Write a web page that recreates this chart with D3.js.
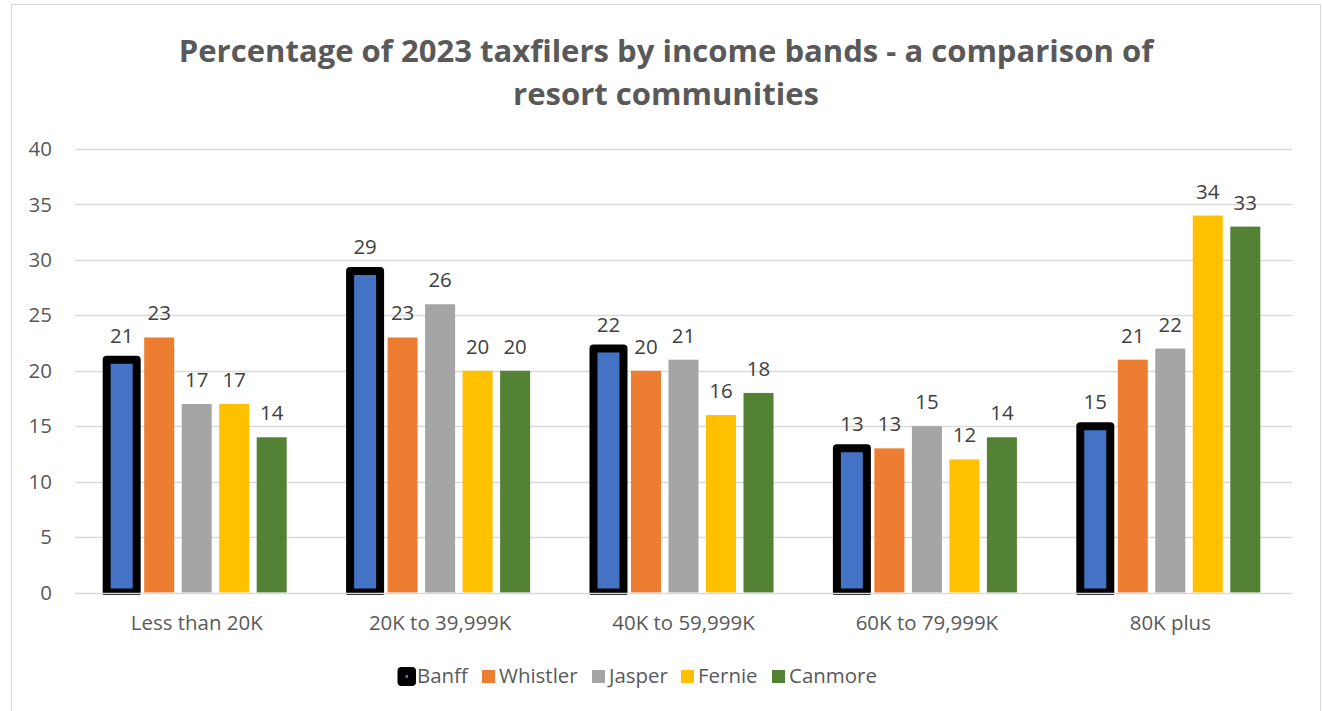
<!DOCTYPE html>
<html>
<head>
<meta charset="utf-8">
<script src="https://cdn.jsdelivr.net/npm/d3@7"></script>
<style>
  html, body { margin: 0; padding: 0; background: #fff; }
  svg { display: block; }
  text { font-family: "Open Sans", "Noto Sans", sans-serif; }
</style>
</head>
<body>
<svg id="chart" width="1322" height="711"></svg>
<script>
// Income bands on the x axis
const categories = ["Less than 20K", "20K to 39,999K", "40K to 59,999K", "60K to 79,999K", "80K plus"];
// Communities compared
const seriesNames = ["Banff", "Whistler", "Jasper", "Fernie", "Canmore"];
// Percentage of taxfilers per band, one array per community
const banff    = [21, 29, 22, 13, 15];
const whistler = [23, 23, 20, 13, 21];
const jasper   = [17, 26, 21, 15, 22];
const fernie   = [17, 20, 16, 12, 34];
const canmore  = [14, 20, 18, 14, 33];
const yTicks = [0, 5, 10, 15, 20, 25, 30, 35, 40];
const titleLines = ["Percentage of 2023 taxfilers by income bands - a comparison of", "resort communities"];

const seriesValues = [banff, whistler, jasper, fernie, canmore];
const colors = ["#4472C4", "#ED7D31", "#A5A5A5", "#FFC000", "#548235"];

const svg = d3.select("#chart");
const W = 1322, H = 711;
const plot = { left: 75, right: 1292, top: 149, bottom: 592.5 };

// size a font so that a sample string spans the wanted width
function fitSize(sample, width, weight) {
  const t = svg.append("text").attr("font-size", 20).attr("font-weight", weight).text(sample);
  const w = t.node().getComputedTextLength();
  t.remove();
  return 20 * width / w;
}
const labelSize = fitSize("Less than 20K", 132, "normal");
const titleSize = fitSize(titleLines[0], 975, "bold");

// chart frame
svg.append("rect")
  .attr("x", 11.5).attr("y", 4.5)
  .attr("width", 1309).attr("height", 720)
  .attr("fill", "#fff").attr("stroke", "#D9D9D9").attr("stroke-width", 1);

// title
const title = svg.append("text")
  .attr("text-anchor", "middle")
  .attr("fill", "#595959")
  .attr("font-weight", "bold")
  .attr("font-size", titleSize);
titleLines.forEach((line, i) => {
  title.append("tspan").attr("x", 666).attr("y", 62 + i * 43).text(line);
});

const y = d3.scaleLinear().domain([0, 40]).range([plot.bottom, plot.top]);
const x0 = d3.scaleBand().domain(categories).range([plot.left, plot.right]).paddingInner(0).paddingOuter(0);
const x1 = d3.scaleBand().domain(seriesNames).range([0, x0.bandwidth()]).paddingInner(0.2).paddingOuter(0.845);

// horizontal gridlines
svg.append("g").selectAll("line")
  .data(yTicks.filter(t => t > 0))
  .join("line")
  .attr("x1", plot.left).attr("x2", plot.right)
  .attr("y1", d => Math.round(y(d)) + 0.5).attr("y2", d => Math.round(y(d)) + 0.5)
  .attr("stroke", "#D9D9D9").attr("stroke-width", 1.5);

// y tick labels
svg.append("g").selectAll("text")
  .data(yTicks)
  .join("text")
  .attr("x", 52).attr("y", d => y(d))
  .attr("dy", "0.35em")
  .attr("text-anchor", "end")
  .attr("font-size", labelSize)
  .attr("fill", "#595959")
  .text(d => d);

// bars are clipped just under the baseline so the thick outline stops there
const defs = svg.append("defs");
defs.append("clipPath").attr("id", "plotClip")
  .append("rect").attr("x", 0).attr("y", 0).attr("width", W).attr("height", 595);

const rows = [];
seriesNames.forEach((s, si) => {
  categories.forEach((c, ci) => {
    rows.push({ series: s, si, cat: c, value: seriesValues[si][ci] });
  });
});

const bars = svg.append("g").attr("clip-path", "url(#plotClip)");
bars.selectAll("rect")
  .data(rows)
  .join("rect")
  .attr("x", d => x0(d.cat) + x1(d.series))
  .attr("y", d => y(d.value))
  .attr("width", x1.bandwidth())
  .attr("height", d => y(0) - y(d.value))
  .attr("fill", d => colors[d.si])
  .attr("stroke", d => d.si === 0 ? "#000" : "none")
  .attr("stroke-width", d => d.si === 0 ? 8 : 0)
  .attr("stroke-linejoin", "round");

// baseline
svg.append("line")
  .attr("x1", plot.left).attr("x2", plot.right)
  .attr("y1", Math.round(y(0)) + 0.5).attr("y2", Math.round(y(0)) + 0.5)
  .attr("stroke", "#D9D9D9").attr("stroke-width", 1.5);

// value labels
svg.append("g").selectAll("text")
  .data(rows)
  .join("text")
  .attr("x", d => x0(d.cat) + x1(d.series) + x1.bandwidth() / 2)
  .attr("y", d => y(d.value) - 17)
  .attr("text-anchor", "middle")
  .attr("font-size", labelSize)
  .attr("fill", "#404040")
  .text(d => d.value);

// category labels
svg.append("g").selectAll("text")
  .data(categories)
  .join("text")
  .attr("x", d => x0(d) + x0.bandwidth() / 2)
  .attr("y", 630)
  .attr("text-anchor", "middle")
  .attr("font-size", labelSize)
  .attr("fill", "#595959")
  .text(d => d);

// legend
const legendX = [401, 482, 592, 681, 772];
const legend = svg.append("g");
seriesNames.forEach((s, i) => {
  const g = legend.append("g");
  if (i === 0) {
    g.append("rect")
      .attr("x", legendX[i] + 0.5).attr("y", 671)
      .attr("width", 10.5).attr("height", 11)
      .attr("fill", colors[i])
      .attr("stroke", "#000").attr("stroke-width", 8).attr("stroke-linejoin", "round");
    g.append("text")
      .attr("x", 417).attr("y", 683)
      .attr("font-size", labelSize).attr("fill", "#595959").text(s);
  } else {
    g.append("rect")
      .attr("x", legendX[i]).attr("y", 670)
      .attr("width", 13).attr("height", 13)
      .attr("fill", colors[i]);
    g.append("text")
      .attr("x", legendX[i] + 17).attr("y", 683)
      .attr("font-size", labelSize).attr("fill", "#595959").text(s);
  }
});
</script>
</body>
</html>
